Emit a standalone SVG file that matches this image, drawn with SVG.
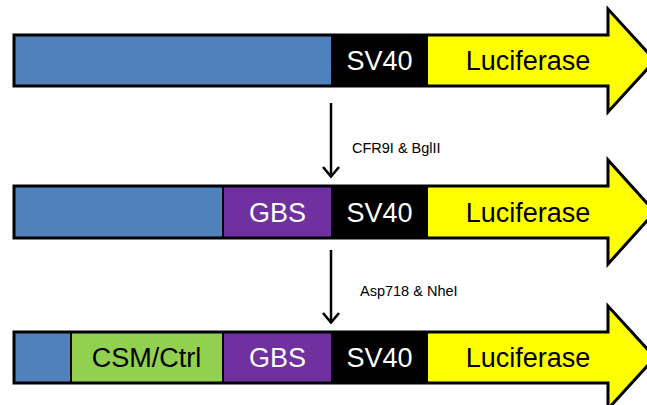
<svg xmlns="http://www.w3.org/2000/svg" width="647" height="405" viewBox="0 0 647 405">
<defs>
<style>
.out{fill:none;stroke:#000;stroke-width:3;stroke-linejoin:miter}
.yel{fill:#FFFF00;stroke:none}
.seg{stroke:#000;stroke-width:2}
.blue{fill:#4F81BD}.pur{fill:#7030A0}.grn{fill:#92D050}.blk{fill:#000}
.big{font-family:"Liberation Sans",Arial,sans-serif;font-size:27px;text-anchor:middle}
.w{fill:#fff}.k{fill:#000}
.lab{font-family:"Liberation Sans",Arial,sans-serif;font-size:14.5px;fill:#000}
.conn{stroke:#000;stroke-width:2.5;fill:none}
</style>
<marker id="chev" viewBox="0 -10 13 20" refX="11.5" refY="0" markerWidth="13" markerHeight="20" markerUnits="userSpaceOnUse" orient="auto">
<path d="M1.5,-8 L11,0 L1.5,8" fill="none" stroke="#000" stroke-width="2.6"/>
</marker>
</defs>
<g id="construct1">
<path class="yel" d="M14,35 H608 V9 L655,60.5 L608,112 V86 H14 Z"/>
<rect class="seg blue" x="14" y="35" width="318" height="51"/>
<rect class="seg blk" x="332" y="35" width="95" height="51"/>
<path class="out" d="M14,35 H608 V9 L655,60.5 L608,112 V86 H14 Z"/>
<text class="big w" x="379.5" y="70">SV40</text>
<text class="big k" x="528" y="70">Luciferase</text>
</g>
<g id="construct2">
<path class="yel" d="M14,186 H608 V160 L655,212 L608,264 V238 H14 Z"/>
<rect class="seg blue" x="14" y="186" width="209" height="52"/>
<rect class="seg pur" x="223" y="186" width="109" height="52"/>
<rect class="seg blk" x="332" y="186" width="95" height="52"/>
<path class="out" d="M14,186 H608 V160 L655,212 L608,264 V238 H14 Z"/>
<text class="big w" x="277.5" y="222">GBS</text>
<text class="big w" x="379.5" y="222">SV40</text>
<text class="big k" x="528" y="222">Luciferase</text>
</g>
<g id="construct3">
<path class="yel" d="M14,332 H608 V306 L655,357.5 L608,409 V383 H14 Z"/>
<rect class="seg blue" x="14" y="332" width="57" height="51"/>
<rect class="seg grn" x="71" y="332" width="152" height="51"/>
<rect class="seg pur" x="223" y="332" width="109" height="51"/>
<rect class="seg blk" x="332" y="332" width="95" height="51"/>
<path class="out" d="M14,332 H608 V306 L655,357.5 L608,409 V383 H14 Z"/>
<text class="big k" x="146.5" y="367">CSM/Ctrl</text>
<text class="big w" x="277.5" y="367">GBS</text>
<text class="big w" x="379.5" y="367">SV40</text>
<text class="big k" x="528" y="367">Luciferase</text>
</g>
<g id="connectors">
<line class="conn" x1="331" y1="103" x2="331" y2="177" marker-end="url(#chev)"/>
<line class="conn" x1="331" y1="250" x2="331" y2="323" marker-end="url(#chev)"/>
<text class="lab" x="352" y="153">CFR9I &amp; BglII</text>
<text class="lab" x="360" y="296">Asp718 &amp; NheI</text>
</g>
</svg>
